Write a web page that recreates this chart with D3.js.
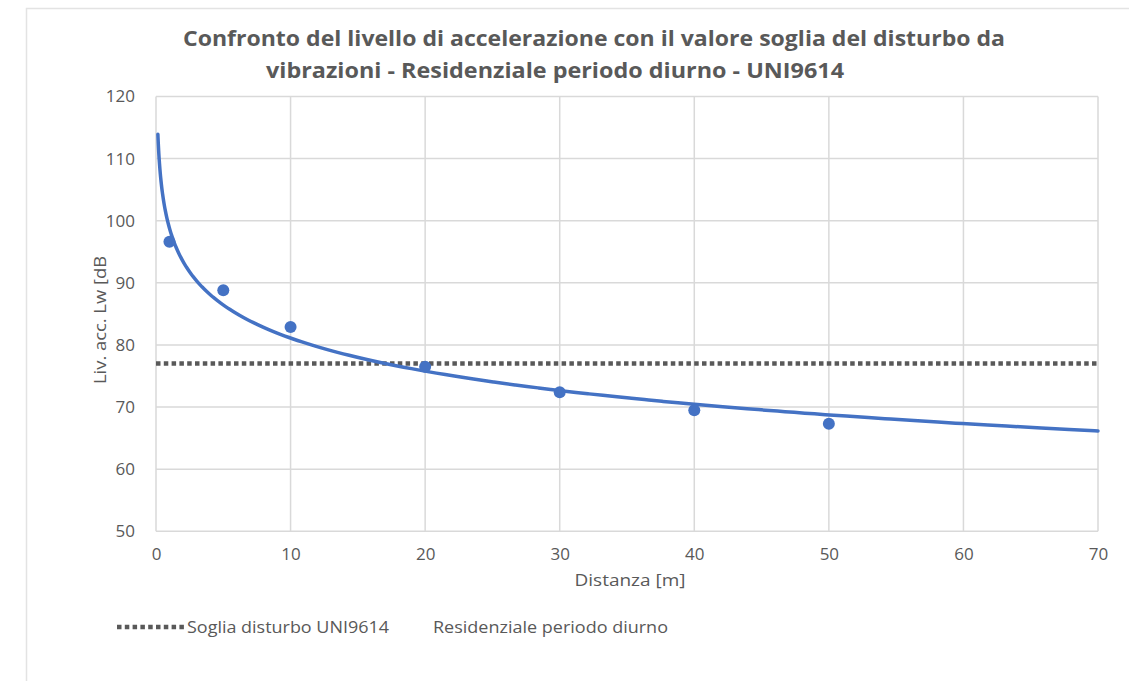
<!DOCTYPE html>
<html>
<head>
<meta charset="utf-8">
<script src="https://cdn.jsdelivr.net/npm/d3@7"></script>
<style>
  body { margin: 0; background: #fff; }
  svg { display: block; font-family: "Open Sans", "Noto Sans", sans-serif; }
</style>
</head>
<body>
<svg id="chart" width="1129" height="681"></svg>
<script>
// Measured acceleration levels vs distance
const distances = [1, 5, 10, 20, 30, 40, 50];
const levels = [96.6, 88.8, 82.9, 76.5, 72.4, 69.5, 67.3];

// UNI9614 threshold (residential, daytime)
const thresholdLevel = 77;

const xTicks = [0, 10, 20, 30, 40, 50, 60, 70];
const yTicks = [50, 60, 70, 80, 90, 100, 110, 120];

const titleLines = [
  "Confronto del livello di accelerazione con il valore soglia del disturbo da",
  "vibrazioni - Residenziale periodo diurno - UNI9614"
];
const xTitle = "Distanza [m]";
const yTitle = "Liv. acc. Lw [dB";
const legendLabels = ["Soglia disturbo UNI9614", "Residenziale periodo diurno"];

// Span of the logarithmic trendline
const trendStart = 0.14, trendEnd = 70;

const textColor = "#595959";
const gridColor = "#d9d9d9";
const blue = "#4472c4";

const svg = d3.select("#chart");
const plot = { left: 156, right: 1098, top: 96.5, bottom: 531.3 };

const x = d3.scaleLinear().domain([0, 70]).range([plot.left, plot.right]);
const y = d3.scaleLinear().domain([50, 120]).range([plot.bottom, plot.top]);

// Outer chart frame
svg.append("rect")
  .attr("x", 26.5).attr("y", 8.5)
  .attr("width", 1200).attr("height", 800)
  .attr("fill", "#fff").attr("stroke", "#e3e3e3").attr("stroke-width", 1.5);

// Title (two wrapped lines)
const titleX = [183, 266], titleWidths = [822, 578];
svg.append("g").selectAll("text").data(titleLines).join("text")
  .attr("x", (d, i) => titleX[i]).attr("y", (d, i) => 46 + i * 32)
  .attr("fill", textColor)
  .attr("font-size", 21).attr("font-weight", 700)
  .attr("textLength", (d, i) => titleWidths[i])
  .attr("lengthAdjust", "spacingAndGlyphs")
  .text(d => d);

// Gridlines
svg.append("g").selectAll("line").data(yTicks).join("line")
  .attr("x1", plot.left).attr("x2", plot.right)
  .attr("y1", d => y(d)).attr("y2", d => y(d))
  .attr("stroke", gridColor).attr("stroke-width", 1.5);
svg.append("g").selectAll("line").data(xTicks).join("line")
  .attr("x1", d => x(d)).attr("x2", d => x(d))
  .attr("y1", plot.top).attr("y2", plot.bottom)
  .attr("stroke", gridColor).attr("stroke-width", 1.5);

// Axes (labels only; lines come from the grid)
const yAxis = svg.append("g").attr("transform", `translate(${plot.left},0)`)
  .call(d3.axisLeft(y).tickValues(yTicks).tickSize(0).tickPadding(21));
const xAxis = svg.append("g").attr("transform", `translate(0,${plot.bottom})`)
  .call(d3.axisBottom(x).tickValues(xTicks).tickSize(0).tickPadding(17));
[yAxis, xAxis].forEach(a => {
  a.select(".domain").remove();
  a.selectAll("text").attr("fill", textColor).attr("font-size", 17)
    .attr("font-family", "\"Open Sans\", sans-serif");
});

// Axis titles
svg.append("text")
  .attr("x", 630).attr("y", 586)
  .attr("text-anchor", "middle").attr("fill", textColor).attr("font-size", 17)
  .attr("textLength", 111).attr("lengthAdjust", "spacingAndGlyphs")
  .text(xTitle);
svg.append("text")
  .attr("transform", "translate(106,320) rotate(-90)")
  .attr("text-anchor", "middle").attr("fill", textColor).attr("font-size", 17)
  .attr("textLength", 128).attr("lengthAdjust", "spacingAndGlyphs")
  .text(yTitle);

// Threshold line
svg.append("line")
  .attr("x1", x(0)).attr("x2", x(70))
  .attr("y1", y(thresholdLevel)).attr("y2", y(thresholdLevel))
  .attr("stroke", "#595959").attr("stroke-width", 4.5)
  .attr("stroke-dasharray", "4.5,3.3");

// Logarithmic least-squares trendline of the measurements
const lx = distances.map(Math.log);
const mx = d3.mean(lx), my = d3.mean(levels);
const slope = d3.sum(lx, (v, i) => (v - mx) * (levels[i] - my)) / d3.sum(lx, v => (v - mx) ** 2);
const intercept = my - slope * mx;
const trendX = d3.range(0, 201).map(i => trendStart * Math.pow(trendEnd / trendStart, i / 200));
svg.append("path")
  .datum(trendX)
  .attr("fill", "none").attr("stroke", blue).attr("stroke-width", 3.5)
  .attr("stroke-linecap", "round")
  .attr("d", d3.line().x(d => x(d)).y(d => y(intercept + slope * Math.log(d))).curve(d3.curveMonotoneX));

// Measured points
svg.append("g").selectAll("circle").data(distances).join("circle")
  .attr("cx", d => x(d)).attr("cy", (d, i) => y(levels[i]))
  .attr("r", 6).attr("fill", blue);

// Legend
svg.append("line")
  .attr("x1", 117).attr("x2", 184).attr("y1", 627).attr("y2", 627)
  .attr("stroke", "#595959").attr("stroke-width", 4.5)
  .attr("stroke-dasharray", "4.5,3.3");
const legendX = [187, 433], legendW = [202, 235];
svg.append("g").selectAll("text").data(legendLabels).join("text")
  .attr("x", (d, i) => legendX[i]).attr("y", 633)
  .attr("fill", textColor).attr("font-size", 17)
  .attr("textLength", (d, i) => legendW[i]).attr("lengthAdjust", "spacingAndGlyphs")
  .text(d => d);
</script>
</body>
</html>
